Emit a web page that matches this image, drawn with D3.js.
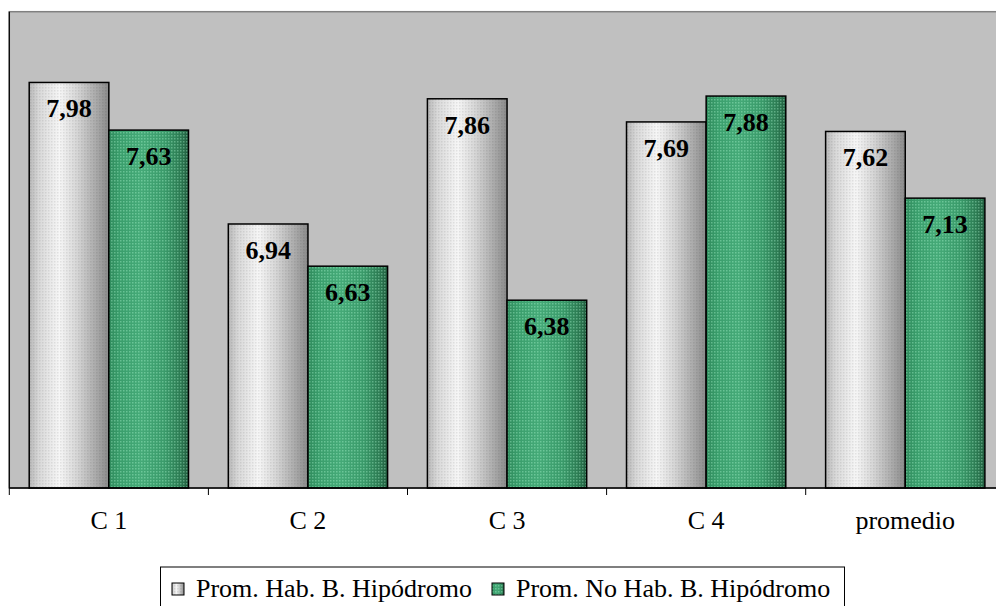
<!DOCTYPE html>
<html><head><meta charset="utf-8">
<script src="https://cdn.jsdelivr.net/npm/d3@7"></script>
<style>html,body{margin:0;padding:0;background:#fff;overflow:hidden}</style>
</head><body>
<script>
const categories = ["C 1", "C 2", "C 3", "C 4", "promedio"];
const seriesNames = ["Prom. Hab. B. Hipódromo", "Prom. No Hab. B. Hipódromo"];
const habValues = [7.98, 6.94, 7.86, 7.69, 7.62];
const noHabValues = [7.63, 6.63, 6.38, 7.88, 7.13];
const yDomain = [5, 8.5];

const W = 996, H = 606;
const svg = d3.select("body").append("svg").attr("width", W).attr("height", H);
const defs = svg.append("defs");

// gradients
const gGray = defs.append("linearGradient").attr("id","gGray").attr("x1","0").attr("x2","1").attr("y1","0").attr("y2","0");
[[0,"#b8b8b8"],[0.12,"#d8d8d8"],[0.38,"#f6f6f6"],[0.6,"#d6d6d6"],[0.85,"#a8a8a8"],[1,"#8a8a8a"]]
  .forEach(([o,c])=>gGray.append("stop").attr("offset",o).attr("stop-color",c));
const gGreen = defs.append("linearGradient").attr("id","gGreen").attr("x1","0").attr("x2","1").attr("y1","0").attr("y2","0");
[[0,"#2f8a5c"],[0.15,"#3a9e6c"],[0.4,"#45aa78"],[0.7,"#3a9a6a"],[0.9,"#2c7a52"],[1,"#215c3e"]]
  .forEach(([o,c])=>gGreen.append("stop").attr("offset",o).attr("stop-color",c));

// dot patterns
const pGray = defs.append("pattern").attr("id","pGray").attr("width",3).attr("height",3).attr("patternUnits","userSpaceOnUse");
pGray.append("rect").attr("width",3).attr("height",3).attr("fill","url(#gGrayDummy)").attr("opacity",0);
pGray.append("rect").attr("x",0).attr("y",0).attr("width",1.5).attr("height",1.5).attr("fill","#000").attr("opacity",0.08);
const pGreen = defs.append("pattern").attr("id","pGreen").attr("width",3).attr("height",3).attr("patternUnits","userSpaceOnUse");
pGreen.append("rect").attr("x",0).attr("y",0).attr("width",1.5).attr("height",1.5).attr("fill","#b8ffd8").attr("opacity",0.35);

const plot = {left: 9.3, top: 11.7, bottom: 488};
const step = 199.1;
const x0 = d3.scaleBand().domain(categories).range([plot.left, plot.left + step*categories.length]).paddingInner(0).paddingOuter(0);
const x1 = d3.scaleBand().domain(seriesNames).range([0, x0.bandwidth()]).paddingInner(0).paddingOuter(0.25);
const y = d3.scaleLinear().domain(yDomain).range([plot.bottom, plot.top]);

// plot area
svg.append("rect").attr("x", plot.left).attr("y", plot.top).attr("width", W - plot.left + 10).attr("height", plot.bottom - plot.top)
  .attr("fill", "#c0c0c0").attr("stroke", "#808080").attr("stroke-width", 1.5);

const fills = [["url(#gGray)","url(#pGray)"],["url(#gGreen)","url(#pGreen)"]];
const seriesData = [habValues, noHabValues];

seriesData.forEach((vals, si) => {
  const g = svg.append("g");
  const data = categories.map((c,i)=>({c, v: vals[i]}));
  g.selectAll("rect.base").data(data).join("rect").attr("class","base")
    .attr("x", d => x0(d.c) + x1(seriesNames[si])).attr("y", d => y(d.v))
    .attr("width", x1.bandwidth()).attr("height", d => y(yDomain[0]) - y(d.v))
    .attr("fill", fills[si][0]);
  g.selectAll("rect.pat").data(data).join("rect").attr("class","pat")
    .attr("x", d => x0(d.c) + x1(seriesNames[si])).attr("y", d => y(d.v))
    .attr("width", x1.bandwidth()).attr("height", d => y(yDomain[0]) - y(d.v))
    .attr("fill", fills[si][1]).attr("stroke", "#000").attr("stroke-width", 1.5);
  g.selectAll("text").data(data).join("text")
    .attr("x", d => x0(d.c) + x1(seriesNames[si]) + x1.bandwidth()/2)
    .attr("y", d => y(d.v) + 35)
    .attr("text-anchor", "middle")
    .attr("font-family", "'Liberation Serif', 'Times New Roman', serif")
    .attr("font-weight", "bold").attr("font-size", 26).attr("fill", "#000")
    .text(d => d.v.toFixed(2).replace(".", ","));
});

// left axis line
svg.append("line").attr("x1", plot.left).attr("x2", plot.left).attr("y1", plot.top).attr("y2", plot.bottom).attr("stroke", "#000").attr("stroke-width", 1.2);

// x axis
const xAxis = d3.axisBottom(x0).tickSize(0).tickPadding(0);
const ax = svg.append("g").attr("transform", `translate(0,${plot.bottom})`).call(xAxis);
ax.select(".domain").remove();
ax.append("line").attr("x1", plot.left).attr("x2", W + 10).attr("stroke", "#000").attr("stroke-width", 1.5);
ax.selectAll(".tick text").attr("y", 41).attr("dy", 0)
  .attr("font-family", "'Liberation Serif', 'Times New Roman', serif").attr("font-size", 26).attr("fill", "#000");
// category boundary ticks
ax.selectAll("line.bt").data(categories).join("line").attr("class","bt")
  .attr("x1", d => x0(d)).attr("x2", d => x0(d)).attr("y1", 0).attr("y2", 7)
  .attr("stroke", "#000").attr("stroke-width", 1);

// legend
const lg = svg.append("g");
lg.append("rect").attr("x", 160.5).attr("y", 567).attr("width", 684).attr("height", 50)
  .attr("fill", "#fff").attr("stroke", "#000").attr("stroke-width", 1);
const legendItems = [{name: seriesNames[0], sx: 172, tx: 196}, {name: seriesNames[1], sx: 492, tx: 516}];
legendItems.forEach((it, i) => {
  lg.append("rect").attr("x", it.sx).attr("y", 583).attr("width", 12).attr("height", 12).attr("fill", fills[i][0]);
  lg.append("rect").attr("x", it.sx).attr("y", 583).attr("width", 12).attr("height", 12).attr("fill", fills[i][1])
    .attr("stroke", "#000").attr("stroke-width", 1);
  lg.append("text").attr("x", it.tx).attr("y", 597)
    .attr("font-family", "'Liberation Serif', 'Times New Roman', serif").attr("font-size", 26).attr("fill", "#000")
    .text(it.name);
});
</script>
</body></html>
